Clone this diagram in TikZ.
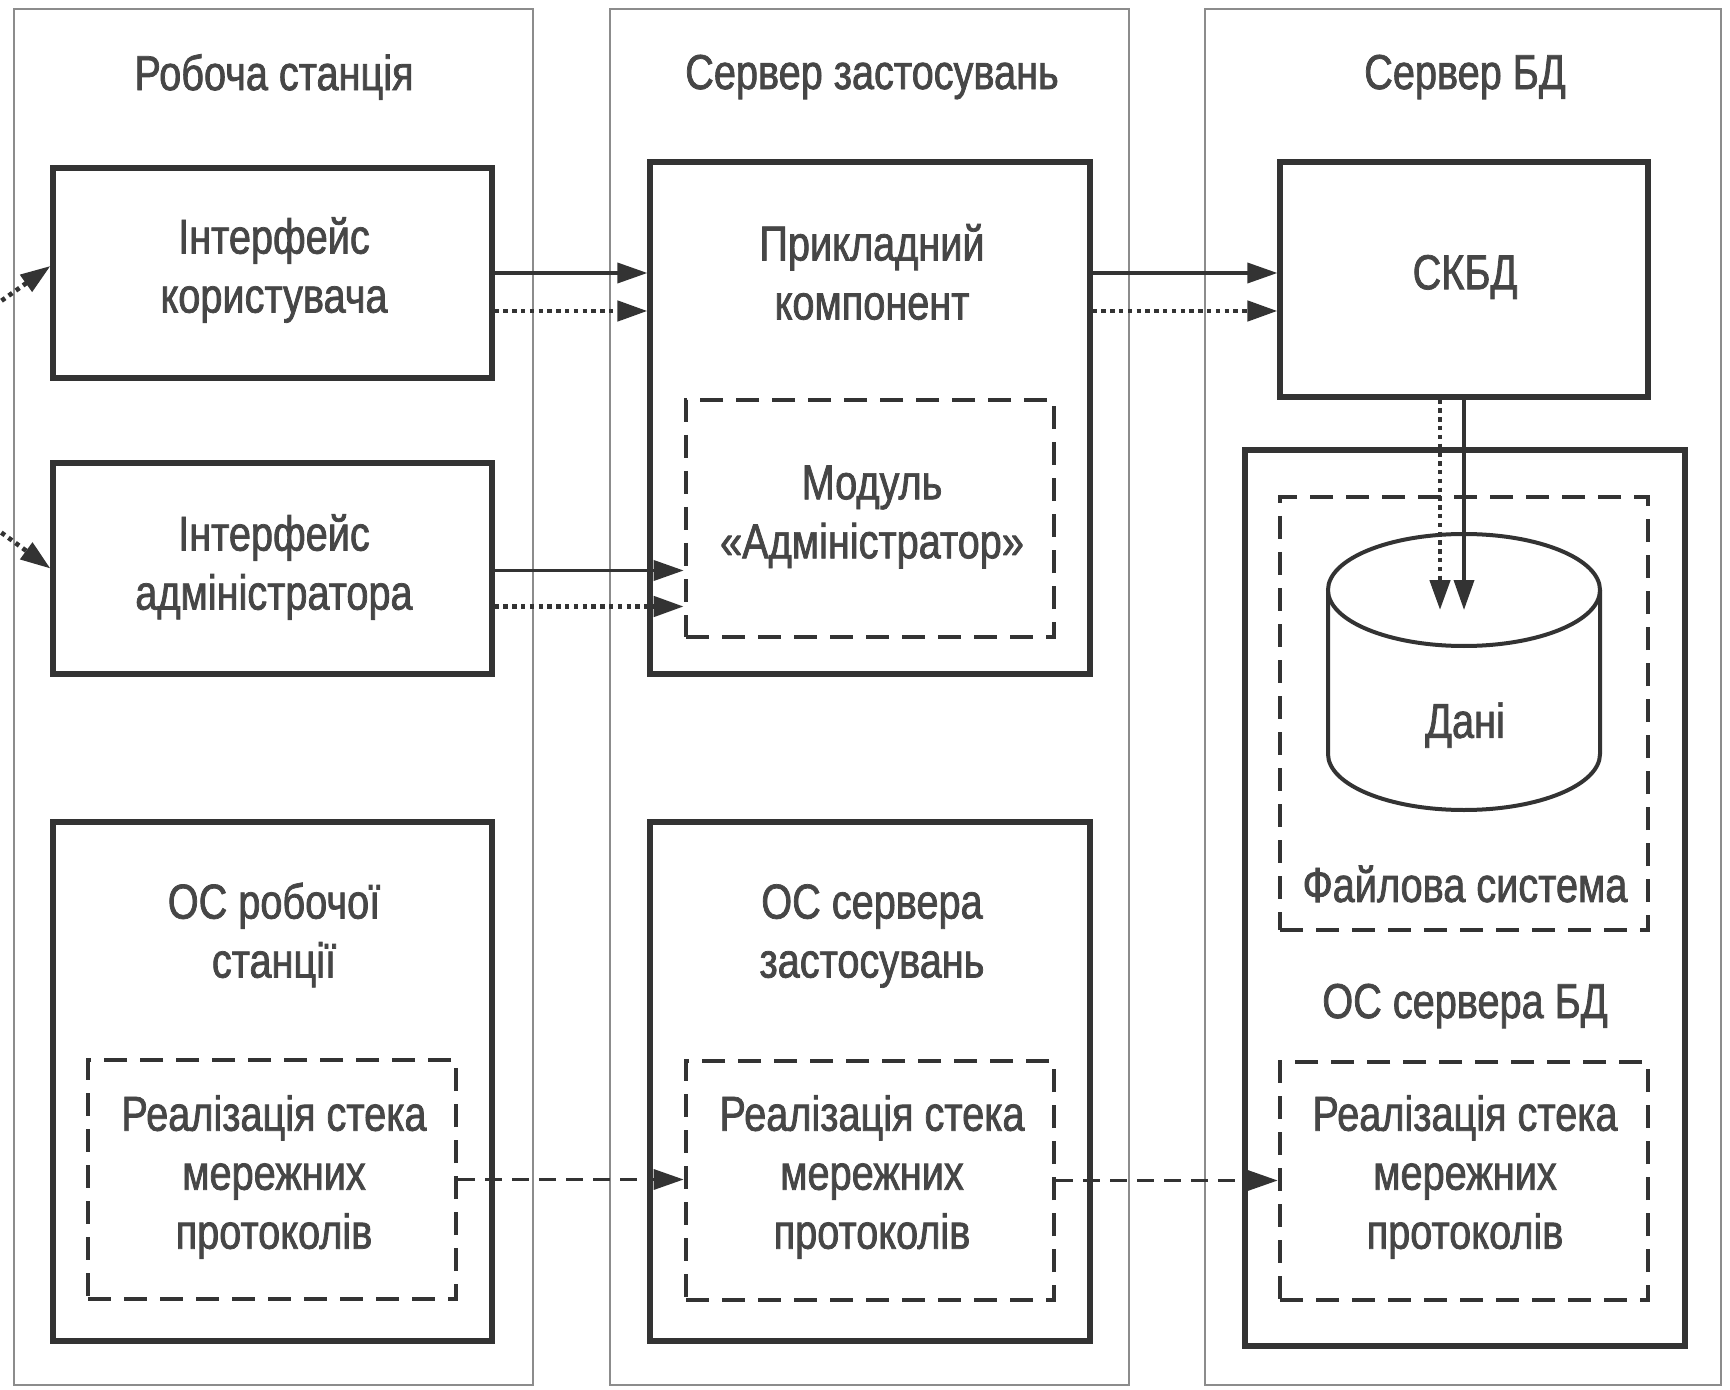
\documentclass[tikz,border=0pt]{standalone}
\usepackage{fontspec}
\setmainfont[FakeStretch=0.81,UprightFeatures={FakeBold=1.5}]{Liberation Sans}
\usetikzlibrary{arrows.meta,fit,calc}
\definecolor{ink}{HTML}{333333}
\definecolor{txt}{HTML}{464646}
\definecolor{frame}{HTML}{8C8C8C}
\begin{document}
\begin{tikzpicture}[x=0.5pt,y=-0.5pt,
  column/.style={draw=frame,line width=1.1pt,inner sep=0pt},
  box/.style={draw=ink,line width=2.6pt,inner sep=0pt},
  dbox/.style={draw=ink,line width=2.3pt,dash pattern=on 11.5pt off 6.5pt,inner sep=0pt},
  lbl/.style={text=txt,font=\fontsize{24.5}{29.5}\selectfont,align=center,inner sep=0pt},
  tip/.style={-{Triangle[length=15pt,width=10pt]}},
  solidarrow/.style={draw=ink,line width=1.8pt,tip},
  dotarrow/.style={draw=ink,line width=2.3pt,dash pattern=on 2.2pt off 2.2pt,tip},
  dasharrow/.style={draw=ink,line width=1.7pt,dash pattern=on 8.5pt off 5pt,tip},
  cyl/.style={draw=ink,line width=2pt,fill=white},
]
\fill[white] (0,0) rectangle (1730,1390);
\useasboundingbox (0,0) rectangle (1730,1390);

% columns
\node[column,fit={(14,9)(533,1385)}] (c1) {};
\node[column,fit={(610,9)(1129,1385)}] (c2) {};
\node[column,fit={(1205,9)(1721,1385)}] (c3) {};
\node[lbl] (t1) at (274,77) {Робоча станція};
\node[lbl] (t2) at (872,77) {Сервер застосувань};
\node[lbl] (t3) at (1465,77) {Сервер БД};

% column 1
\node[box,fit={(53,168)(492,378)}] (ui) {};
\node[lbl] (uit) at (274,270) {Інтерфейс\\користувача};
\node[box,fit={(53,463)(492,674)}] (ai) {};
\node[lbl] (ait) at (274,567) {Інтерфейс\\адміністратора};
\node[box,fit={(53,822)(492,1341)}] (os1) {};
\node[lbl] (os1t) at (274,935) {ОС робочої\\станції};
\node[dbox,fit={(88,1060)(456,1299)}] (net1) {};
\node[lbl] (net1t) at (274,1177) {Реалізація стека\\мережних\\протоколів};

% column 2
\node[box,fit={(650,162)(1090,674)}] (app) {};
\node[lbl] (appt) at (872,272) {Прикладний\\компонент};
\node[dbox,fit={(686,400)(1054,637)}] (mod) {};
\node[lbl] (modt) at (872,517) {Модуль\\«Адміністратор»};
\node[box,fit={(650,822)(1090,1341)}] (os2) {};
\node[lbl] (os2t) at (872,936) {ОС сервера\\застосувань};
\node[dbox,fit={(686,1061)(1054,1300)}] (net2) {};
\node[lbl] (net2t) at (872,1177) {Реалізація стека\\мережних\\протоколів};

% column 3
\node[box,fit={(1280,162)(1648,397)}] (skbd) {};
\node[lbl] (skbdt) at (1465,277) {СКБД};
\node[box,fit={(1245,450)(1685,1346)}] (osdb) {};
\node[dbox,fit={(1280,497)(1648,930)}] (fs) {};
\draw[cyl] (1328,590) -- (1328,754) .. controls (1328,784.9) and (1388.9,810) .. (1464,810)
  .. controls (1539.1,810) and (1600,784.9) .. (1600,754) -- (1600,590);
\draw[cyl] (1464,590) ellipse [x radius=136,y radius=56];
\node[lbl] (dani) at (1465,725) {Дані};
\node[lbl] (fst) at (1465,884) {Файлова система};
\node[lbl] (osdbt) at (1465,1006) {ОС сервера БД};
\node[dbox,fit={(1280,1062)(1648,1300)}] (net3) {};
\node[lbl] (net3t) at (1465,1177) {Реалізація стека\\мережних\\протоколів};

% connectors
\coordinate (in1) at (-20,316);
\coordinate (in2) at (-20,517);
\draw[dotarrow] (in1) -- ([yshift=3.5pt]ui.west);
\draw[dotarrow] (in2) -- (ai.west);

\path ([yshift=-19pt]ui.east) coordinate (uid);
\draw[solidarrow] (ui.east) -- (ui.east -| app.west);
\draw[dotarrow] (uid) -- (uid -| app.west);
\path ([yshift=-1pt]ai.east) coordinate (ais);
\path ([yshift=-19pt]ai.east) coordinate (aid);
\draw[solidarrow] (ais) -- (ais -| mod.west);
\draw[dotarrow] (aid) -- (aid -| mod.west);

\draw[solidarrow] (app.east |- ui.east) -- (skbd.west |- ui.east);
\draw[dotarrow] (app.east |- uid) -- (skbd.west |- uid);

\coordinate (tipS) at (1464,610);
\coordinate (tipD) at (1440,610);
\draw[solidarrow] (skbd.south -| tipS) -- (tipS);
\draw[dotarrow] (skbd.south -| tipD) -- (tipD);

\draw[dasharrow] (net1.east) -- (net1.east -| net2.west);
\draw[dasharrow] (net2.east) -- (net2.east -| net3.west);
\end{tikzpicture}
\end{document}
